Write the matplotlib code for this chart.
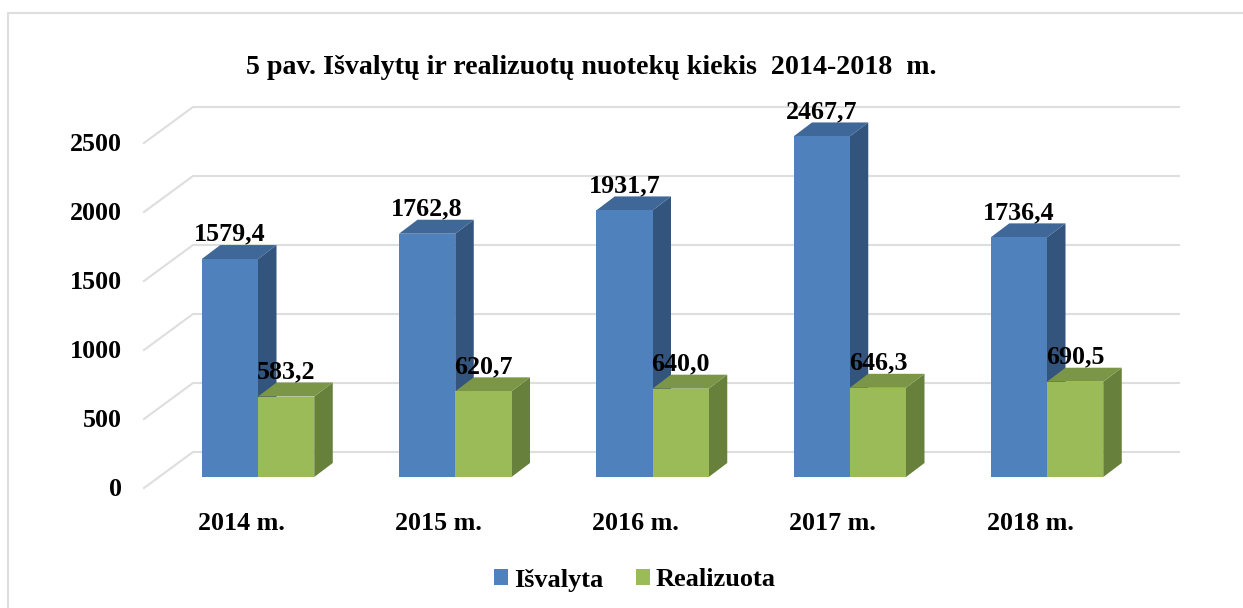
import matplotlib
matplotlib.use("Agg")
import matplotlib.pyplot as plt
from matplotlib.lines import Line2D
from matplotlib.patches import Polygon, Patch
from matplotlib.transforms import ScaledTranslation

plt.rcParams['font.family'] = ['Liberation Serif', 'DejaVu Serif']
plt.rcParams['font.weight'] = 'bold'

years = ['2014 m.', '2015 m.', '2016 m.', '2017 m.', '2018 m.']
isvalyta = [1579.4, 1762.8, 1931.7, 2467.7, 1736.4]
realizuota = [583.2, 620.7, 640.0, 646.3, 690.5]
isvalyta_txt = ['1579,4', '1762,8', '1931,7', '2467,7', '1736,4']
realizuota_txt = ['583,2', '620,7', '640,0', '646,3', '690,5']
yticks = [0, 500, 1000, 1500, 2000, 2500]

W, H = 1243, 608
PX_X = 197.25      # pixels per category
PX_Y = 0.138       # pixels per value unit
bar_w = 56.25 / PX_X
dx = 18.5 / PX_X   # bar depth
dy = 14 / PX_Y

fig = plt.figure(figsize=(W / 100, H / 100), dpi=100)
ax = fig.add_axes([144 / W, (H - 477) / H, (1179 - 144) / W, 371 / H])
ax.set_xlim((144 - 258) / PX_X, (1179 - 258) / PX_X)
ax.set_ylim(0, 371 / PX_Y)
for s in ax.spines.values():
    s.set_visible(False)
ax.patch.set_alpha(0)

# walls: floor diagonal + back grid line
grid_c = '#DEDEDE'
x0 = ax.get_xlim()[0]
x1 = x0 + 49 / PX_X
x2 = ax.get_xlim()[1]
for v in yticks:
    ax.plot([x0, x1, x2], [v - 11 / PX_Y, v + 25 / PX_Y, v + 25 / PX_Y],
            color=grid_c, lw=1.5, clip_on=False, zorder=1, solid_joinstyle='miter')


def bar3d(x, v, front, top, side):
    ax.add_patch(Polygon([(x + bar_w, 0), (x + bar_w + dx, dy), (x + bar_w + dx, v + dy), (x + bar_w, v)],
                         fc=side, ec='none', zorder=2, clip_on=False))
    ax.add_patch(Polygon([(x, v), (x + dx, v + dy), (x + bar_w + dx, v + dy), (x + bar_w, v)],
                         fc=top, ec='none', zorder=2, clip_on=False))
    ax.bar(x, v, bar_w, align='edge', color=front, zorder=2)


for i in range(len(years)):
    bar3d(i - bar_w, isvalyta[i], '#4F81BD', '#3F6797', '#33547D')
    bar3d(i, realizuota[i], '#9BBB59', '#7C9647', '#67803B')

for i in range(len(years)):
    ax.annotate(isvalyta_txt[i], (i - bar_w / 2, isvalyta[i]), xytext=(0, 25 * 0.72), textcoords='offset points',
                ha='center', va='center', fontsize=18.7, color='black', zorder=5, annotation_clip=False)
    ax.annotate(realizuota_txt[i], (i + bar_w / 2, realizuota[i]), xytext=(0, 25 * 0.72), textcoords='offset points',
                ha='center', va='center', fontsize=18.7, color='black', zorder=5, annotation_clip=False)

ax.set_yticks(yticks)
ax.set_yticklabels([str(t) for t in yticks], fontsize=18.7)
ax.set_xticks(range(len(years)))
ax.set_xticklabels(years, fontsize=18.7)
ax.tick_params(axis='y', length=0, pad=15.8)
ax.tick_params(axis='x', length=0, pad=25)
for lbl in ax.get_yticklabels():
    lbl.set_transform(lbl.get_transform() + ScaledTranslation(0, -10 / 100, fig.dpi_scale_trans))
for lbl in ax.get_xticklabels():
    lbl.set_transform(lbl.get_transform() + ScaledTranslation(-17 / 100, 0, fig.dpi_scale_trans))

fig.text(591 / W, 1 - 68 / H, '5 pav. Išvalytų ir realizuotų nuotekų kiekis  2014-2018  m.',
         ha='center', va='center', fontsize=20.2, color='black')

handles = [Patch(fc='#4F81BD', label='Išvalyta'), Patch(fc='#9BBB59', label='Realizuota')]
fig.legend(handles=handles, loc='center', bbox_to_anchor=(635 / W, 1 - 580 / H), ncol=2, frameon=False,
           fontsize=18.9, handlelength=0.54, handleheight=0.54, handletextpad=0.2, columnspacing=1.27)

# outer border of the chart (no line on the right, top runs off the edge)
fig.add_artist(Line2D([8 / W, 8 / W, 1], [0, 1 - 13 / H, 1 - 13 / H], color=grid_c, lw=1.5))

fig.savefig('out.png', dpi=100)
